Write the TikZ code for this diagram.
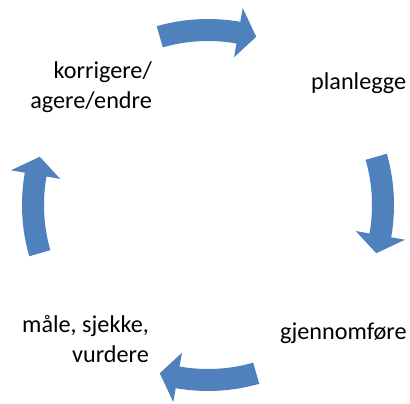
\documentclass[tikz,border=0pt]{standalone}
\usepackage{fontspec}
\setmainfont{Carlito}
\usepackage{tikz}
\usetikzlibrary{arrows.meta}
\definecolor{syklusblaa}{HTML}{4F81BD}

\begin{document}
\begin{tikzpicture}[x=1pt,y=1pt]
				\useasboundingbox (0,0) rectangle (410,-404);
				\coordinate (M) at (208,-205);
				\begin{scope}[every node/.style = {inner sep=0pt,
						font = \fontsize{24.2}{29.5}\selectfont}]
					\node[anchor=base east, align=right] (korr) at (152,-108) {korrigere/\\agere/endre};
					\node[anchor=base west] (plan) at (311,-89) {planlegge};
					\node[anchor=base west] (gjen) at (280,-339) {gjennomføre};
					\node[anchor=base east, align=right] (maale) at (149,-362) {måle, sjekke,\\vurdere};
				\end{scope}
				\begin{scope}[every path/.style={fill=syklusblaa, draw=none}]
					\foreach \a in {90,0,-90,180}
						\path ([shift={(\a+16:186pt)}]M) arc[start angle=\a+16, end angle=\a-10, radius=186pt]
							-- ([shift={(\a-10:200pt)}]M) -- ([shift={(\a-16:175pt)}]M)
							-- ([shift={(\a-10:150pt)}]M) -- ([shift={(\a-10:164pt)}]M)
							arc[start angle=\a-10, end angle=\a+16, radius=164pt] -- cycle;
				\end{scope}
			\end{tikzpicture}
\end{document}
